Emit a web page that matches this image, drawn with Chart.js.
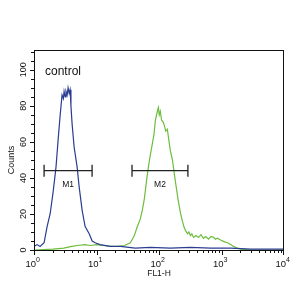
<!DOCTYPE html>
<html>
<head>
<meta charset="utf-8">
<script src="https://cdn.jsdelivr.net/npm/chart.js@4/dist/chart.umd.min.js"></script>
<style>
  html, body { margin: 0; padding: 0; background: #fff; }
  #wrap { width: 305px; height: 296px; }
</style>
</head>
<body>
<div id="wrap"><canvas id="c" width="305" height="296"></canvas></div>
<script>
// FL1-H values and counts
const controlX = [1.0, 1.12, 1.25, 1.45, 1.62, 1.81, 2.02, 2.25, 2.43, 2.61, 2.81, 2.95, 3.03, 3.15, 3.25, 3.39, 3.51, 3.65, 3.78, 3.9, 4.07, 4.39, 4.9, 5.28, 5.89, 6.58, 7.64, 8.53, 9.5, 11.4, 16.6, 24, 41.8, 72, 152, 318, 669, 1400, 2940, 10000];
const controlY = [2, 3, 2, 4, 13, 20, 32, 46, 61, 74, 86, 84, 88, 85, 88, 86, 90, 87, 89, 80, 70, 57, 46, 35, 22, 13, 9, 5, 4, 3, 2, 2, 1, 1.5, 1, 1.5, 1, 1, 0.5, 0.5];

const sampleX = [1.0, 2.0, 3.0, 4.0, 5.0, 6.5, 8, 10, 13, 17, 22, 28, 34.8, 40.3, 45, 50, 54, 58, 60.5, 64, 67.6, 72, 78.3, 83, 87.5, 94.2, 97.8, 101, 105, 110, 117, 122, 128, 136, 145, 152, 164, 183, 204, 222, 237, 250, 264, 286, 300, 318, 335, 357, 390, 428, 470, 514, 560, 619, 680, 745, 800, 862, 967, 1120, 1250, 1400, 1560, 1810, 2030, 2940, 10000];
const sampleY = [0, 0.5, 1, 2, 2.5, 3, 2.5, 3, 2.5, 2, 2, 2.5, 4, 8, 13, 17, 22, 28, 33, 40, 46, 52, 59, 64, 72, 77, 79, 75, 77, 72, 71, 69, 66, 67, 60, 55, 50, 38, 27, 20, 16, 13, 11, 9, 10, 8, 9, 7, 8, 7, 8.5, 6.5, 7.5, 6, 7.5, 7, 6, 6.5, 5.5, 4.5, 4, 3, 2, 1, 0.5, 0, 0];

const xDecades = [1, 10, 100, 1000, 10000];
const xExponents = ['0', '1', '2', '3', '4'];
const yTicks = [0, 20, 40, 60, 80, 100];

const markerNames = ['M1', 'M2'];
const markerStart = [1.45, 37];
const markerEnd = [8.5, 290];
const markerLevel = 44;

const toPoints = (xs, ys) => xs.map((x, i) => ({ x, y: ys[i] }));

const font = (size) => `${size}px "Liberation Sans", Arial, sans-serif`;

// frame, ticks, labels and gates drawn against the chart's own scales
const decorations = {
  id: 'decorations',
  afterDatasetsDraw(chart) {
    const ctx = chart.ctx;
    const { left, right, top, bottom } = chart.chartArea;
    const xs = chart.scales.x;
    const ys = chart.scales.y;
    ctx.save();
    ctx.strokeStyle = '#111';
    ctx.lineWidth = 1;
    ctx.strokeRect(left + 0.5, top + 0.5, right - left - 1, bottom - top);

    // y ticks every 5
    ctx.beginPath();
    for (let v = 0; v <= 110; v += 5) {
      const py = Math.round(ys.getPixelForValue(v)) + 0.5;
      const len = v % 20 === 0 ? 4 : 3;
      ctx.moveTo(left, py);
      ctx.lineTo(left - len, py);
    }
    // x log ticks
    for (let d = 0; d < 4; d++) {
      for (let m = 1; m <= 9; m++) {
        const px = Math.round(xs.getPixelForValue(m * Math.pow(10, d))) + 0.5;
        const len = m === 1 ? 5 : 3;
        ctx.moveTo(px, bottom);
        ctx.lineTo(px, bottom + len);
      }
    }
    const pxEnd = Math.round(xs.getPixelForValue(10000)) - 0.5;
    ctx.moveTo(pxEnd, bottom);
    ctx.lineTo(pxEnd, bottom + 5);
    ctx.stroke();

    ctx.fillStyle = '#111';
    // y tick labels, rotated
    ctx.font = font(9);
    ctx.textAlign = 'center';
    ctx.textBaseline = 'middle';
    yTicks.forEach(v => {
      const py = ys.getPixelForValue(v);
      ctx.save();
      ctx.translate(24, py);
      ctx.rotate(-Math.PI / 2);
      ctx.fillText(String(v), 0, 0);
      ctx.restore();
    });
    // y title
    ctx.save();
    ctx.translate(12, (top + bottom) / 2 + 10);
    ctx.rotate(-Math.PI / 2);
    ctx.font = font(9);
    ctx.fillText('Counts', 0, 0);
    ctx.restore();

    // x tick labels 10^n
    xDecades.forEach((v, i) => {
      const px = xs.getPixelForValue(v);
      ctx.font = font(9.5);
      ctx.textAlign = 'right';
      ctx.textBaseline = 'alphabetic';
      ctx.fillText('10', px + 2, bottom + 17);
      ctx.font = font(7);
      ctx.textAlign = 'left';
      ctx.fillText(xExponents[i], px + 2, bottom + 12);
    });
    ctx.font = font(8.5);
    ctx.textAlign = 'center';
    ctx.fillText('FL1-H', xs.getPixelForValue(100), bottom + 26);

    // gates
    ctx.strokeStyle = '#222';
    ctx.lineWidth = 1.3;
    const py = ys.getPixelForValue(markerLevel);
    markerNames.forEach((name, i) => {
      const x0 = xs.getPixelForValue(markerStart[i]);
      const x1 = xs.getPixelForValue(markerEnd[i]);
      ctx.beginPath();
      ctx.moveTo(x0, py); ctx.lineTo(x1, py);
      ctx.moveTo(x0, py - 6); ctx.lineTo(x0, py + 6);
      ctx.moveTo(x1, py - 6); ctx.lineTo(x1, py + 6);
      ctx.stroke();
      ctx.font = font(8.5);
      ctx.textAlign = 'center';
      ctx.textBaseline = 'middle';
      ctx.fillText(name, (x0 + x1) / 2, py + 14);
    });

    ctx.font = font(12);
    ctx.textAlign = 'left';
    ctx.textBaseline = 'middle';
    ctx.fillText('control', left + 11, top + 22);
    ctx.restore();
  }
};

new Chart(document.getElementById('c'), {
  type: 'line',
  data: {
    datasets: [
      {
        label: 'control',
        data: toPoints(controlX, controlY),
        borderColor: '#2a3d90',
        borderWidth: 1.2,
        pointRadius: 0,
        tension: 0
      },
      {
        label: 'sample',
        data: toPoints(sampleX, sampleY),
        borderColor: '#6dbd3c',
        borderWidth: 1.2,
        pointRadius: 0,
        tension: 0
      }
    ]
  },
  options: {
    responsive: false,
    animation: false,
    layout: { padding: { left: 34, top: 50, right: 21, bottom: 46 } },
    plugins: { legend: { display: false }, tooltip: { enabled: false } },
    scales: {
      x: { type: 'logarithmic', min: 1, max: 10000, display: false },
      y: { type: 'linear', min: 0, max: 111, display: false }
    }
  },
  plugins: [decorations]
});
</script>
</body>
</html>
